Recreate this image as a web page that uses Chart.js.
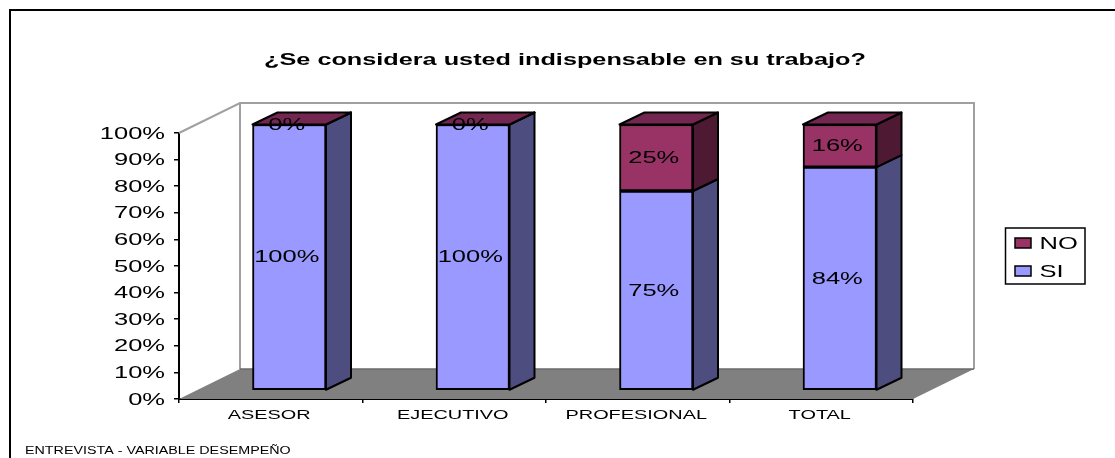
<!DOCTYPE html>
<html lang="es">
<head>
<meta charset="utf-8">
<title>¿Se considera usted indispensable en su trabajo?</title>
<style>html,body{margin:0;padding:0;background:#fff}canvas{display:block}</style>
<script src="https://cdn.jsdelivr.net/npm/chart.js@4/dist/chart.umd.min.js"></script>
</head>
<body>
<canvas id="c" width="1115" height="458"></canvas>
<script>
const categories = ['ASESOR', 'EJECUTIVO', 'PROFESIONAL', 'TOTAL'];
const siValues = [100, 100, 75, 84];
const noValues = [0, 0, 25, 16];
const yTickLabels = ['0%','10%','20%','30%','40%','50%','60%','70%','80%','90%','100%'];
const chartTitle = '¿Se considera usted indispensable en su trabajo?';
const footerText = 'ENTREVISTA - VARIABLE DESEMPEÑO';

const FONT = '"Liberation Sans", Arial, sans-serif';
const stretch = {title: 1.485, tick: 1.5, cat: 1.53, footer: 1.43};
const floorDepth = {dx: 61, dy: -30};
const barShift = {dx: 18.5, dy: -8.5};
const barDepth = {dx: 25, dy: -12};
const faces = {
  si: {front: '#9999FF', side: '#4D4D80', top: '#6B6BB3'},
  no: {front: '#993366', side: '#4D1933', top: '#732650'}
};

function poly(ctx, pts, fill, stroke, lw) {
  ctx.beginPath();
  pts.forEach((p, i) => i ? ctx.lineTo(p[0], p[1]) : ctx.moveTo(p[0], p[1]));
  ctx.closePath();
  if (fill) { ctx.fillStyle = fill; ctx.fill(); }
  if (stroke) { ctx.strokeStyle = stroke; ctx.lineWidth = lw; ctx.lineJoin = 'round'; ctx.stroke(); }
}

const wideText = {
  id: 'wideText',
  beforeInit(chart) {
    const ctx = chart.ctx, orig = ctx.fillText.bind(ctx);
    ctx.fillText = function (text, x, y, maxW) {
      const f = ctx.font;
      let s = 1, dx = 0, dy = 0;
      if (f.includes('bold')) s = stretch.title;
      else if (f.includes('17px')) { s = stretch.tick; dy = 1; }
      else if (f.includes('13px')) { s = stretch.cat; dx = -1.5; }
      else if (f.includes('10px')) s = stretch.footer;
      ctx.save();
      ctx.translate(x + dx, y + dy);
      ctx.scale(s, 1);
      orig(text, 0, 0);
      ctx.restore();
    };
  }
};

const scene = {
  id: 'scene',
  afterLayout(chart) {
    const lg = chart.legend;
    lg.left = 1004; lg.top = 223.5; lg.right = 1085; lg.bottom = 340;
    const t = chart.titleBlock;
    t.left = 15; t.right = 1115;
  },
  afterDatasetsUpdate(chart) {
    chart.data.datasets.forEach((d, i) => {
      chart.getDatasetMeta(i).data.forEach(el => {
        el.x += barShift.dx; el.y += barShift.dy; el.base += barShift.dy;
      });
    });
  },
  beforeDraw(chart) {
    const ctx = chart.ctx;
    ctx.save();
    ctx.strokeStyle = '#000'; ctx.lineWidth = 2;
    ctx.beginPath(); ctx.moveTo(10, 458); ctx.lineTo(10, 10); ctx.lineTo(1115, 10); ctx.stroke();
    ctx.strokeStyle = '#000'; ctx.lineWidth = 1.5; ctx.fillStyle = '#fff';
    ctx.strokeRect(1005.5, 228, 79.5, 56);
    ctx.restore();
  },
  beforeDatasetsDraw(chart) {
    const ctx = chart.ctx, a = chart.chartArea, d = floorDepth;
    ctx.save();
    const bl = [a.left, a.bottom], br = [a.right, a.bottom], tl = [a.left, a.top];
    const back = p => [p[0] + d.dx, p[1] + d.dy];
    poly(ctx, [bl, back(bl), back(br), br], '#808080');
    ctx.strokeStyle = '#A0A0A0'; ctx.lineWidth = 2;
    ctx.beginPath();
    ctx.moveTo(...tl); ctx.lineTo(...back(tl)); ctx.lineTo(back(br)[0], back(tl)[1]); ctx.lineTo(...back(br));
    ctx.moveTo(...back(tl)); ctx.lineTo(...back(bl));
    ctx.stroke();
    ctx.strokeStyle = '#6A6A6A'; ctx.lineWidth = 1.5;
    ctx.beginPath(); ctx.moveTo(...back(bl)); ctx.lineTo(...back(br)); ctx.stroke();

    const b = barDepth;
    const keys = ['si', 'no'];
    chart.data.datasets.forEach((ds, i) => {
      chart.getDatasetMeta(i).data.forEach(el => {
        const r = el.x + el.width / 2 , l = el.x - el.width / 2;
        poly(ctx, [[r, el.y], [r + b.dx, el.y + b.dy], [r + b.dx, el.base + b.dy], [r, el.base]],
             faces[keys[i]].side, '#000', 2);
        if (i === chart.data.datasets.length - 1) {
          poly(ctx, [[l, el.y], [l + b.dx, el.y + b.dy], [r + b.dx, el.y + b.dy], [r, el.y]],
               faces[keys[i]].top, '#000', 2);
        }
      });
    });
    ctx.restore();
  },
  afterDatasetsDraw(chart) {
    const ctx = chart.ctx;
    ctx.save();
    ctx.font = '17px ' + FONT;
    ctx.fillStyle = '#000';
    ctx.textAlign = 'center';
    ctx.textBaseline = 'middle';
    chart.data.datasets.forEach((ds, i) => {
      chart.getDatasetMeta(i).data.forEach((el, j) => {
        ctx.fillText(ds.data[j] + '%', el.x - 2.5, (el.y + el.base) / 2 - 0.5);
      });
    });
    ctx.restore();
  },
  afterDraw(chart) {
    const ctx = chart.ctx;
    ctx.save();
    ctx.font = '10px ' + FONT;
    ctx.fillStyle = '#000';
    ctx.textAlign = 'left';
    ctx.textBaseline = 'middle';
    ctx.fillText(footerText, 25, 451);
    ctx.restore();
  }
};

const barStyle = {borderColor: '#000', borderWidth: 2, borderSkipped: false, barThickness: 73.5, clip: false};

new Chart(document.getElementById('c'), {
  type: 'bar',
  data: {
    labels: categories,
    datasets: [
      {label: 'SI', data: siValues, backgroundColor: faces.si.front, ...barStyle},
      {label: 'NO', data: noValues, backgroundColor: faces.no.front, ...barStyle}
    ]
  },
  options: {
    responsive: false,
    animation: false,
    events: [],
    layout: {padding: {left: 0, top: 0, right: 202, bottom: 0}},
    plugins: {
      tooltip: {enabled: false},
      title: {
        display: true, text: chartTitle, color: '#000',
        font: {family: FONT, size: 17, weight: 'bold'},
        padding: {top: 50, bottom: 62.6}
      },
      legend: {
        display: true, position: 'chartArea', align: 'start', reverse: true,
        labels: {
          color: '#000', font: {family: FONT, size: 17},
          boxWidth: 16, boxHeight: 10, padding: 11,
          generateLabels(chart) {
            return chart.data.datasets.map((d, i) => ({
              text: d.label, fillStyle: d.backgroundColor, strokeStyle: '#000', lineWidth: 1.5, datasetIndex: i
            }));
          }
        }
      }
    },
    scales: {
      x: {
        stacked: true,
        afterFit(s) { s.height = 59; s.paddingLeft = 0; s.paddingRight = 0; },
        border: {color: '#000', width: 2},
        grid: {display: true, drawOnChartArea: false, drawTicks: true, tickLength: 4, color: '#000', lineWidth: 1.5, offset: true},
        ticks: {color: '#000', font: {family: FONT, size: 13}, padding: 5, maxRotation: 0}
      },
      y: {
        stacked: true, min: 0, max: 100,
        afterFit(s) { s.width = 179; s.paddingTop = 0; s.paddingBottom = 0; },
        afterBuildTicks(s) { s.ticks = yTickLabels.map(t => ({value: parseInt(t, 10)})); },
        border: {color: '#000', width: 2},
        grid: {display: true, drawOnChartArea: false, drawTicks: true, tickLength: 5, color: '#000', lineWidth: 1.5},
        ticks: {color: '#000', font: {family: FONT, size: 17}, padding: 9, callback: v => v + '%', autoSkip: false}
      }
    }
  },
  plugins: [wideText, scene]
});
</script>
</body>
</html>
